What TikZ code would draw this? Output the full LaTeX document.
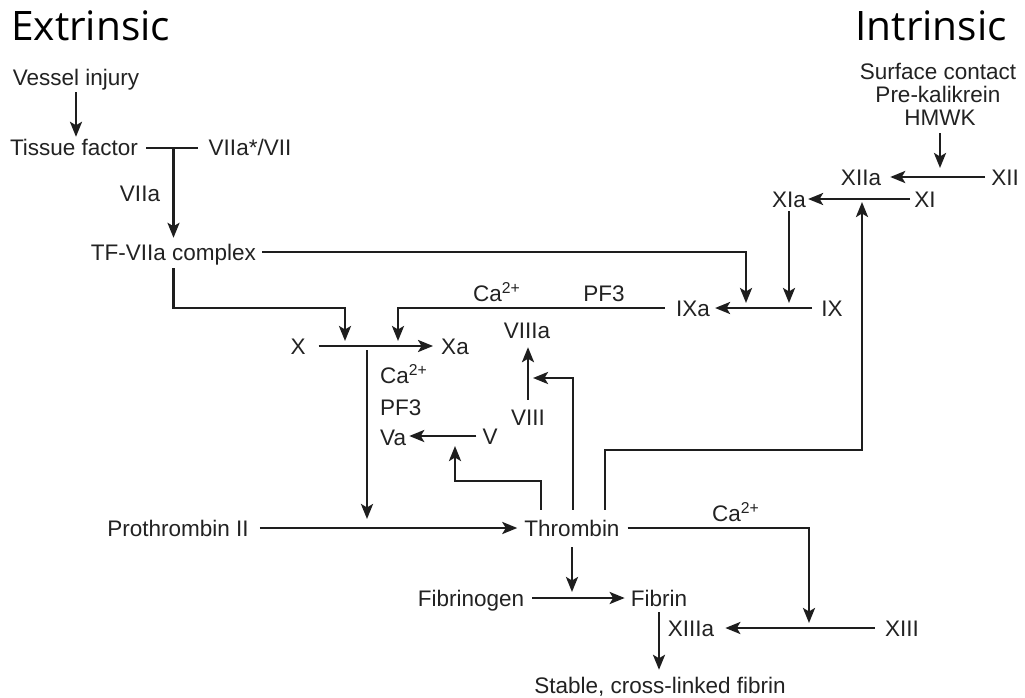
\documentclass[tikz,border=0pt]{standalone}
\usepackage{fontspec}
\setmainfont{Liberation Sans}
\newfontfamily\titlefont{Open Sans}
\usetikzlibrary{arrows.meta,calc}
\definecolor{ink}{HTML}{1E1E1E}
\definecolor{txt}{HTML}{222222}
\begin{document}
\begin{tikzpicture}[x=1pt,y=-1pt,
  lbl/.style={font=\fontsize{22.5}{27}\selectfont, text=txt, inner sep=0pt, text height=16pt, text depth=0pt},
  ttl/.style={font=\titlefont\fontsize{40.6}{48}\selectfont, text=black, inner sep=0pt},
  ln/.style={draw=ink, line width=2.6pt},
  arr/.style={ln, -{Stealth[length=15pt,width=12pt,inset=3.5pt]}}]
\useasboundingbox[fill=white] (0,0) rectangle (1025,698);

% titles
\node[ttl, anchor=base west] (ext) at (11,41) {Extrinsic};
\node[ttl, anchor=base east] (int) at (1007,41) {Intrinsic};

% labels
\node[lbl] (vi) at (76,78) {Vessel injury};
\node[lbl] (tf) at (74,148) {Tissue factor};
\node[lbl] (vii) at (250,148) {VIIa*/VII};
\node[lbl] (viia) at (140,193) {VIIa};
\node[lbl] (tfc) at (173.5,252) {TF-VIIa complex};
\node[lbl] (sc1) at (938,72) {Surface contact};
\node[lbl] (sc2) at (938,95) {Pre-kalikrein};
\node[lbl] (sc3) at (940,118) {HMWK};
\node[lbl] (xiia) at (861,177) {XIIa};
\node[lbl] (xii) at (1005,177) {XII};
\node[lbl] (xia) at (789,199) {XIa};
\node[lbl] (xi) at (925,199) {XI};
\node[lbl] (ixa) at (693,308) {IXa};
\node[lbl] (ix) at (832,308) {IX};
\node[lbl, anchor=west] (ca1) at (473,293) {Ca\textsuperscript{2+}};
\node[lbl] (pf1) at (604,293) {PF3};
\node[lbl] (x) at (298,346) {X};
\node[lbl] (xa) at (455,346) {Xa};
\node[lbl] (viiia) at (527,330) {VIIIa};
\node[lbl, anchor=west] (ca2) at (380,375) {Ca\textsuperscript{2+}};
\node[lbl, anchor=west] (pf2) at (380,407) {PF3};
\node[lbl, anchor=west] (va) at (380,437) {Va};
\node[lbl] (v) at (490,436) {V};
\node[lbl] (viii) at (528,417) {VIII};
\node[lbl] (pro) at (178,528) {Prothrombin II};
\node[lbl] (thr) at (572,528) {Thrombin};
\node[lbl, anchor=west] (ca3) at (712,513) {Ca\textsuperscript{2+}};
\node[lbl] (fbg) at (471,598) {Fibrinogen};
\node[lbl] (fib) at (659,598) {Fibrin};
\node[lbl] (xiiia) at (691,628) {XIIIa};
\node[lbl] (xiii) at (902,628) {XIII};
\node[lbl] (st) at (660,685) {Stable, cross-linked fibrin};

% junction points
\coordinate (j1) at (tf.east -| tfc.north);
\coordinate (k1) at (746,308);
\coordinate (k2) at (345,346);
\coordinate (k3) at (398,346);
\coordinate (k5) at (367,346);
\coordinate (k6) at (k5 |- pro.east);
\coordinate (k7) at (455,436);
\coordinate (k8) at (528,378);
\coordinate (k9) at (862,199);
\coordinate (k10) at (862,450);
\coordinate (k11) at (809,628);
\coordinate (k12) at (thr.south |- fbg.east);

% connectors
\draw[arr, shorten <=6pt, shorten >=3pt] (vi.south) -- (vi.south |- tf.north);
\draw[ln] ([xshift=8pt]tf.east) -- ([xshift=-11pt]vii.west);
\draw[arr, shorten >=6pt] (j1) -- (tfc.north);
\draw[arr, shorten >=5pt] ([xshift=6pt]tfc.east) -| (k1);
\draw[arr, shorten >=5pt] ([yshift=-8pt]tfc.south) |- ($(k2)+(0,-38)$) -- (k2);
\draw[arr, shorten >=5pt] ([xshift=-11pt]ixa.west) -| (k3);
\draw[arr] ([xshift=-9pt]ix.west) -- ([xshift=5pt]ixa.east);
\draw[arr, shorten <=4pt, shorten >=5pt] (xia.south) -- (xia.south |- ix.west);
\draw[arr] ([xshift=-4pt]xi.west) -- ([xshift=2pt]xia.east);
\draw[arr] ([xshift=-6pt]xii.west) -- ([xshift=9pt]xiia.east);
\draw[arr, shorten <=7pt, shorten >=9pt] (sc3.south) -- (sc3.south |- xiia.east);
\draw[arr] ([xshift=13pt]x.east) -- ([xshift=-8pt]xa.west);
\draw[arr, shorten <=4pt, shorten >=9pt] (k5) -- (k6);
\draw[arr] ([xshift=11pt]pro.east) -- ([xshift=-7pt]thr.west);
\draw[arr, shorten >=10pt] ([xshift=-31pt,yshift=10pt]thr.north) -- ++(0,-29) -| (k7);
\draw[arr, shorten >=5pt] ([xshift=1pt,yshift=10pt]thr.north) |- (k8);
\draw[arr, shorten <=9pt, shorten >=9pt] (viii.north) -- (viii.north |- viiia.south);
\draw[arr] ([xshift=-6pt]v.west) -- ([xshift=3pt]v.west -| va.east);
\draw[arr, shorten >=3pt] ([xshift=33pt,yshift=10pt]thr.north) |- (k10) -- (k9);
\draw[arr, shorten >=5pt] ([xshift=8pt]thr.east) -| (k11);
\draw[arr] ([xshift=-10pt]xiii.west) -- ([xshift=11pt]xiiia.east);
\draw[arr, shorten <=11pt, shorten >=6pt] (thr.south) -- (k12);
\draw[arr] ([xshift=8pt]fbg.east) -- ([xshift=-6pt]fib.west);
\draw[arr, shorten <=6pt, shorten >=7pt] (fib.south) -- (fib.south |- st.north);
\end{tikzpicture}
\end{document}
